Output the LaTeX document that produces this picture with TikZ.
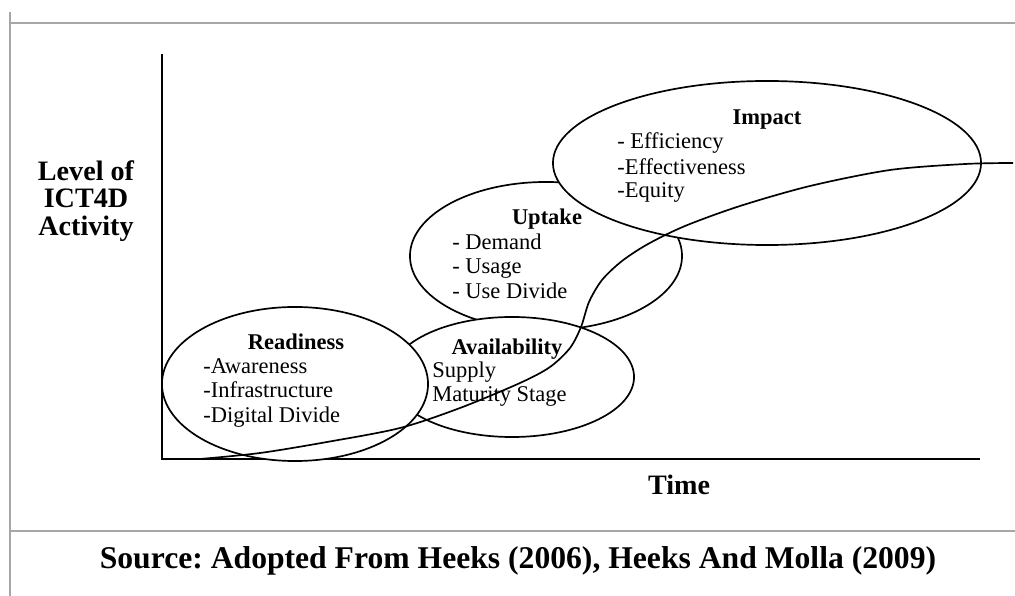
\documentclass[tikz,border=0pt]{standalone}
\usepackage{fontspec}
\setmainfont{Liberation Serif}
\usetikzlibrary{shapes.geometric}
\frenchspacing

\begin{document}
\begin{tikzpicture}[x=0.025cm, y=-0.025cm,
		phase/.style={draw, fill=white, ellipse, line width=1.2pt, inner sep=0pt},
		phasetitle/.style={font=\fontsize{16}{18}\selectfont\bfseries, anchor=base, inner sep=0pt},
		phaseitem/.style={font=\fontsize{16}{18}\selectfont, anchor=base west, inner sep=0pt},
		axislabel/.style={font=\fontsize{20}{19.6}\selectfont\bfseries, align=center, inner sep=0pt}]
	\useasboundingbox (0,0) rectangle (1015,596);
	
	% Rahmen zeichnen
	\begin{scope}[draw=gray!70, line width=1.4pt]
		\draw (10,12) to (10,596);
		\draw (10,23) to (1015,23);
		\draw (10,531) to (1015,531);
	\end{scope}
	
	% Koordinatenachsen zeichnen
	\coordinate (origin) at (162,459);
	\coordinate (y-End) at (162,54);
	\coordinate (x-End) at (980,459);
	\draw[line width=1.8pt] (y-End) to (origin) to (x-End);
	
	% Achsenbeschriftungen eintragen
	\node[axislabel] (level) at (86,201) {Level of\\ICT4D\\Activity};
	\node[axislabel, anchor=base] (time) at (679,495) {Time};
	
	% Phasen zeichnen (Reihenfolge: verdeckte zuerst)
	\node[phase, minimum width=6.8cm, minimum height=3.7cm] (uptake) at (546,256) {};
	\node[phase, minimum width=6.1cm, minimum height=3cm] (availability) at (512,377) {};
	\node[phase, minimum width=6.65cm, minimum height=3.85cm] (readiness) at (295,384) {};
	\node[phase, minimum width=10.7cm, minimum height=4.1cm] (impact) at (767,163) {};
	
	% Graph zeichnen
	\draw[line width=1.2pt] plot[smooth, tension=0.5] coordinates {(200,459) (260,453) (327,442) (400,428) (460,408) (520,383) (550,367) (570,348) (581,327) (589,302) (602,280) (622,261) (648,244) (685,226) (740,206) (810,186) (890,170) (965,164) (1013,163)};
	
	% Beschriftungen der Phasen
	\node[phasetitle] (readiness-Title) at (296,350) {Readiness};
	\node[phaseitem] (readiness-1) at (203,374) {-Awareness};
	\node[phaseitem] (readiness-2) at (203,398) {-Infrastructure};
	\node[phaseitem] (readiness-3) at (203,423) {-Digital Divide};
	
	\node[phasetitle] (availability-Title) at (507,355) {Availability};
	\node[phaseitem] (availability-1) at (432,378) {Supply};
	\node[phaseitem] (availability-2) at (432,402) {Maturity Stage};
	
	\node[phasetitle] (uptake-Title) at (547,225) {Uptake};
	\node[phaseitem] (uptake-1) at (452,250) {- Demand};
	\node[phaseitem] (uptake-2) at (452,274) {- Usage};
	\node[phaseitem] (uptake-3) at (452,299) {- Use Divide};
	
	\node[phasetitle] (impact-Title) at (767,125) {Impact};
	\node[phaseitem] (impact-1) at (617,149) {- Efficiency};
	\node[phaseitem] (impact-2) at (617,175) {-Effectiveness};
	\node[phaseitem] (impact-3) at (617,198) {-Equity};
	
	% Quelle
	\node[font=\fontsize{22.5}{26}\selectfont\bfseries, anchor=base] (source) at (518,569) {Source: Adopted From Heeks (2006), Heeks And Molla (2009)};
\end{tikzpicture}
\end{document}
